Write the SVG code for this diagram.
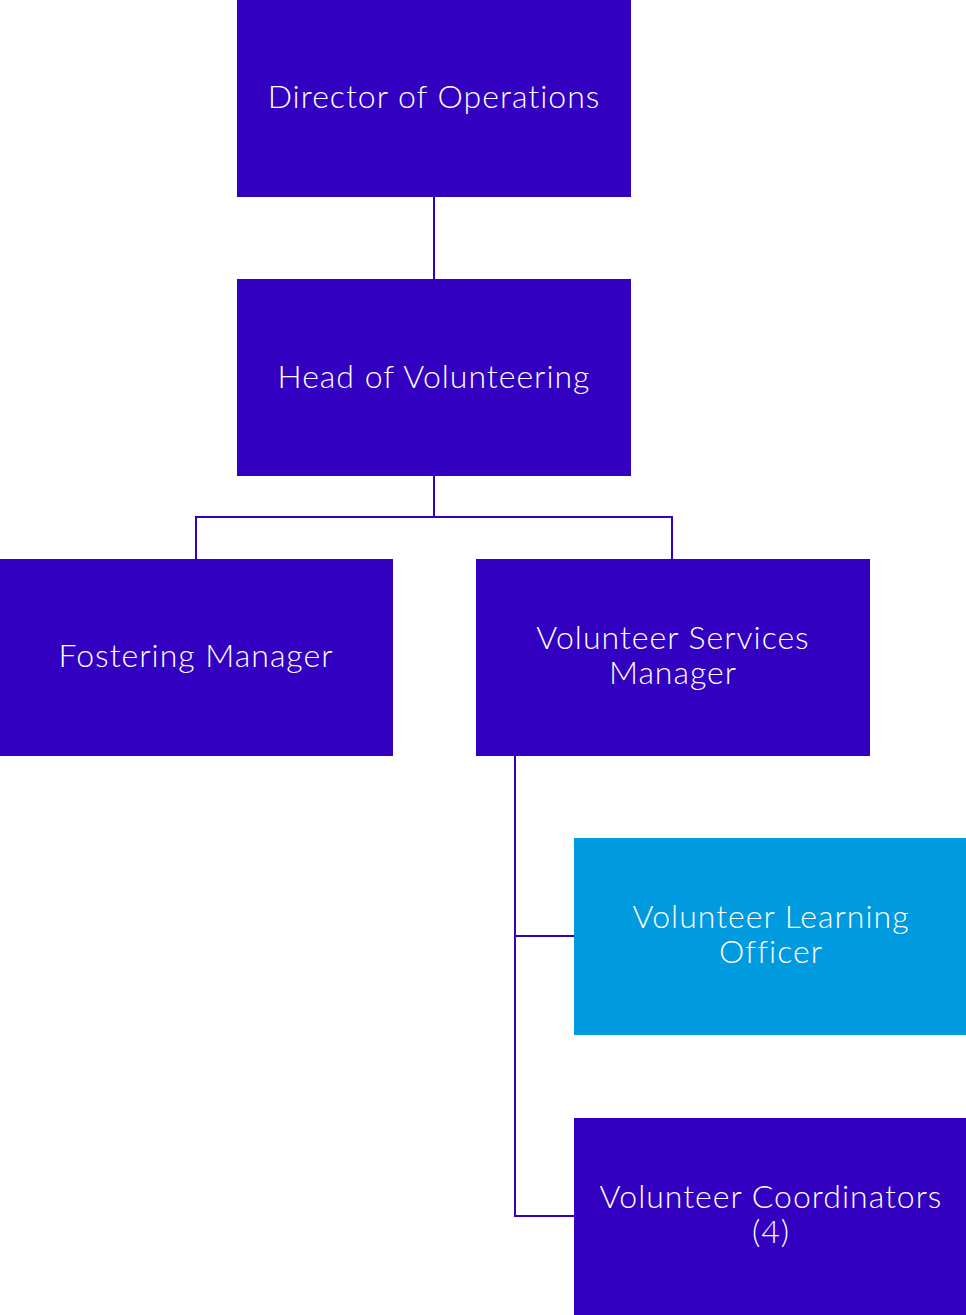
<svg xmlns="http://www.w3.org/2000/svg" width="966" height="1315" viewBox="0 0 966 1315">
  <style>
    .box { fill: #3300C2; }
    .box.alt { fill: #009ADE; }
    .label { font-family: "Lato", "Liberation Sans", sans-serif; font-weight: 300; font-size: 32px; letter-spacing: 1px; fill: #FFFFFF; text-anchor: middle; }
    .link { fill: none; stroke: #3300C2; stroke-width: 2; }
  </style>
  <rect width="966" height="1315" fill="#FFFFFF"/>

  <g id="connectors">
    <path class="link" d="M434 197 V279"/>
    <path class="link" d="M434 476 V517 M196 559 V517 H672 V559"/>
    <path class="link" d="M515 756 V1216 H574 M515 936 H574"/>
  </g>

  <g id="director">
    <rect class="box" x="237" y="0" width="394" height="197"/>
    <text class="label" x="434" y="108">Director of Operations</text>
  </g>

  <g id="head-volunteering">
    <rect class="box" x="237" y="279" width="394" height="197"/>
    <text class="label" x="434" y="388">Head of Volunteering</text>
  </g>

  <g id="fostering-manager">
    <rect class="box" x="0" y="559" width="393" height="197"/>
    <text class="label" x="196" y="667">Fostering Manager</text>
  </g>

  <g id="volunteer-services-manager">
    <rect class="box" x="476" y="559" width="394" height="197"/>
    <text class="label" x="673" y="649">Volunteer Services</text>
    <text class="label" x="673" y="684">Manager</text>
  </g>

  <g id="volunteer-learning-officer">
    <rect class="box alt" x="574" y="838" width="392" height="197"/>
    <text class="label" x="771" y="928">Volunteer Learning</text>
    <text class="label" x="771" y="963">Officer</text>
  </g>

  <g id="volunteer-coordinators">
    <rect class="box" x="574" y="1118" width="392" height="197"/>
    <text class="label" x="771" y="1208">Volunteer Coordinators</text>
    <text class="label" x="771" y="1243">(4)</text>
  </g>
</svg>
